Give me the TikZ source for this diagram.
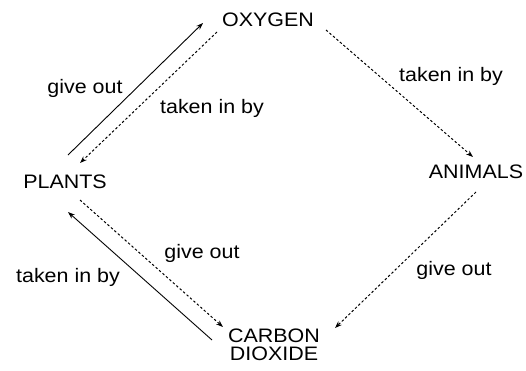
\documentclass[tikz,border=0pt]{standalone}
\usepackage{fontspec}
\setmainfont{Liberation Sans}[FakeStretch=1.1]
\usetikzlibrary{arrows.meta}
\begin{document}
\begin{tikzpicture}[x=1pt,y=-1pt,
  lbl/.style={font=\fontsize{19.5}{18}\selectfont, inner sep=0pt, align=center},
  solidarrow/.style={line width=0.9pt, -{Stealth[length=7pt,width=5pt]}},
  dasharrow/.style={line width=1pt, dash pattern=on 2.4pt off 2.2pt, -{Stealth[length=7pt,width=5pt]}}]
\useasboundingbox (0,0) rectangle (526,370);
% main nodes
\node[lbl] (oxygen) at (268,20) {OXYGEN};
\node[lbl] (plants) at (65,182) {PLANTS};
\node[lbl] (animals) at (476,172) {ANIMALS};
\node[lbl] (carbon) at (274,345) {CARBON\\DIOXIDE};
% labels
\node[lbl] (l1) at (85,88) {give out};
\node[lbl] (l2) at (212,108) {taken in by};
\node[lbl] (l3) at (451,76) {taken in by};
\node[lbl] (l4) at (202,253) {give out};
\node[lbl] (l5) at (68,277) {taken in by};
\node[lbl] (l6) at (454,270) {give out};
% connector end points
\coordinate (pO1) at (68,155);
\coordinate (oP1) at (203,23);
\coordinate (oP2) at (217,32);
\coordinate (pO2) at (80,163);
\coordinate (oA) at (326,30);
\coordinate (aO) at (473,157);
\coordinate (aC) at (476,192);
\coordinate (cA) at (335,328);
\coordinate (pC) at (80,200);
\coordinate (cP) at (223,327);
\coordinate (cP2) at (212,340);
\coordinate (pC2) at (68,212);
% connectors
\draw[solidarrow] (pO1) -- (oP1);
\draw[dasharrow] (oP2) -- (pO2);
\draw[dasharrow] (oA) -- (aO);
\draw[dasharrow] (aC) -- (cA);
\draw[dasharrow] (pC) -- (cP);
\draw[solidarrow] (cP2) -- (pC2);
\end{tikzpicture}
\end{document}
